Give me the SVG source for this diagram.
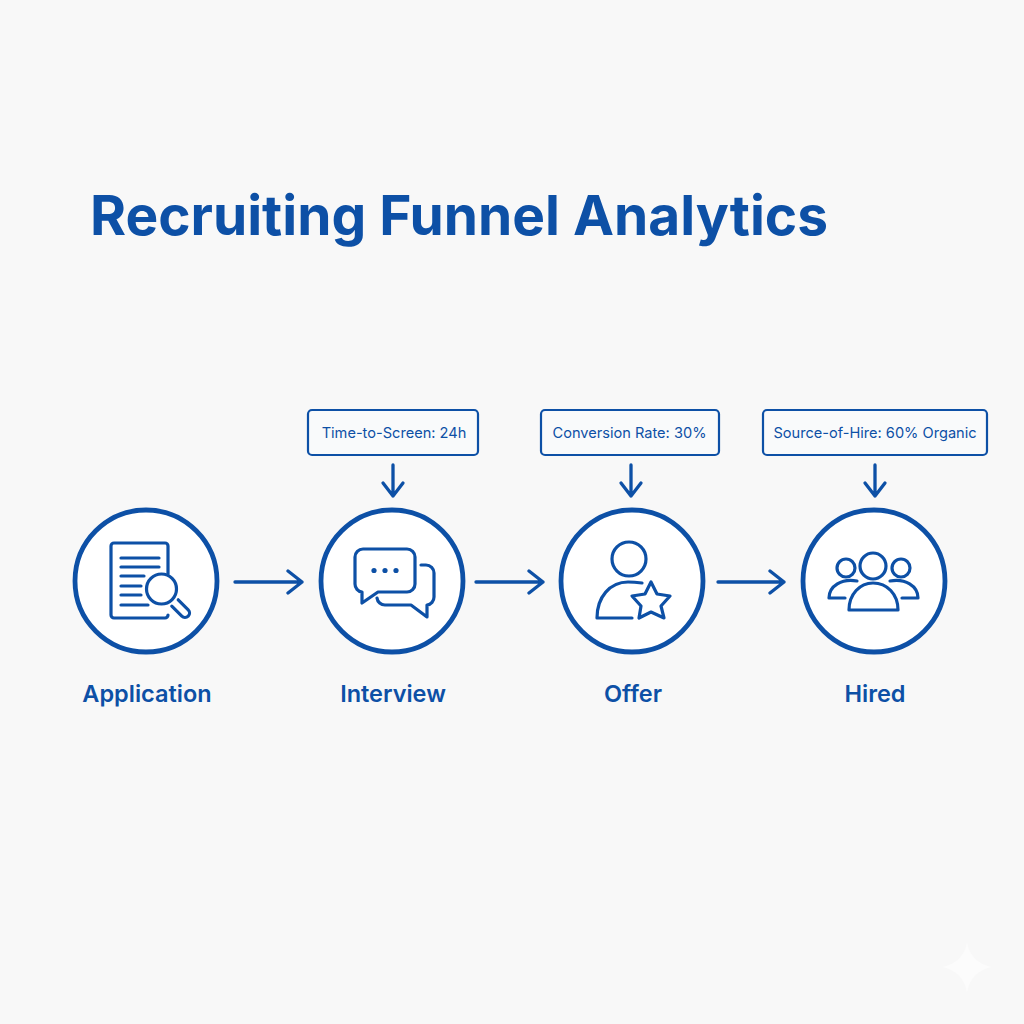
<svg xmlns="http://www.w3.org/2000/svg" width="1024" height="1024" viewBox="0 0 1024 1024">
<defs>
<style>
text{font-family:Inter,"Liberation Sans",Arial,sans-serif;fill:#0d50a6;text-anchor:middle}
.title{font-size:55px;font-weight:700;text-anchor:start}
.label{font-size:23.500px;font-weight:600}
.metric{font-size:14.600px;font-weight:400}
.ring{fill:#fff;stroke:#0d50a6;stroke-width:4.800}
.box{fill:#f9fafb;stroke:#0d50a6;stroke-width:2.200}
.ic{fill:none;stroke:#0d50a6;stroke-width:3.200;stroke-linecap:round;stroke-linejoin:round}
.thin{fill:none;stroke:#0d50a6;stroke-width:3.200;stroke-linecap:round}
.arrow{fill:none;stroke:#0d50a6;stroke-width:3.300;stroke-linecap:round;stroke-linejoin:round}
</style>
</defs>
<rect width="1024" height="1024" fill="#f8f8f8"/>
<path d="M967 943Q971 962 991 967Q971 972 967 992Q963 972 943 967Q963 962 967 943Z" fill="#fcfcfc"/>
<text id="title" class="title" x="90" y="235">Recruiting Funnel Analytics</text>
<g id="connectors">
<path class="arrow" d="M235 582H302M288 571L302 582L288 593"/>
<path class="arrow" d="M476 582H543M529 571L543 582L529 593"/>
<path class="arrow" d="M718 582H784M770 571L784 582L770 593"/>
<path class="arrow" d="M393 465V496M383 483L393 496L403 483"/>
<path class="arrow" d="M631 465V496M621 483L631 496L641 483"/>
<path class="arrow" d="M875 465V496M865 483L875 496L885 483"/>
</g>
<g id="node-application">
<circle class="ring" cx="146" cy="581" r="71"/>
<path class="ic" d="M168 574V546a3 3 0 0 0-3-3H114a3 3 0 0 0-3 3V615a3 3 0 0 0 3 3H165a3 3 0 0 0 3-3"/>
<path class="thin" d="M121 558H159M121 567H159M121 576H144M121 586H141M121 595H141M121 605H148"/>
<circle class="ic" cx="161.500" cy="589" r="15"/>
<path class="ic" d="M178.200 599.800L188.200 609.800A4.500 4.500 0 0 1 181.800 616.200L171.800 606.200"/>
<text class="label" x="147" y="702">Application</text>
</g>
<g id="node-interview">
<circle class="ring" cx="392" cy="581" r="71"/>
<path class="ic" d="M363 549H407a8 8 0 0 1 8 8V584a8 8 0 0 1-8 8H378L362 603V592A8 8 0 0 1 355 584V557a8 8 0 0 1 8-8Z"/>
<path class="ic" d="M421 565H426a8 8 0 0 1 8 8V597a8 8 0 0 1-7 8V617L411 605H385a8 8 0 0 1-8-7"/>
<circle cx="374" cy="570.500" r="2.600" fill="#0d50a6"/><circle cx="385" cy="570.500" r="2.600" fill="#0d50a6"/><circle cx="396" cy="570.500" r="2.600" fill="#0d50a6"/>
<text class="label" x="393" y="702">Interview</text>
</g>
<g id="node-offer">
<circle class="ring" cx="632" cy="581" r="71"/>
<circle class="ic" cx="629" cy="559" r="17"/>
<path class="ic" d="M642 583Q634 582 628 582C610 582 597 597 597 618H632"/>
<path class="ic" d="M651 582L657 594L670 596L661 606L664 618L651 612L639 618L641 606L632 596L645 594Z"/>
<text class="label" x="633" y="702">Offer</text>
</g>
<g id="node-hired">
<circle class="ring" cx="874" cy="581" r="71"/>
<circle class="ic" cx="873" cy="566" r="13"/>
<circle class="ic" cx="846" cy="568" r="9"/>
<circle class="ic" cx="901" cy="568" r="9"/>
<path class="ic" d="M849 610C849 594 860 583 873 583C887 583 898 594 898 610Z"/>
<path class="ic" d="M857 581C842 578 829 586 829 598H845"/>
<path class="ic" d="M890 581C905 578 918 586 918 598H902"/>
<text class="label" x="875" y="702">Hired</text>
</g>
<g id="metric-time-to-screen">
<rect class="box" x="308" y="410" width="170" height="45" rx="4"/>
<text class="metric" x="394" y="438">Time-to-Screen: 24h</text>
</g>
<g id="metric-conversion-rate">
<rect class="box" x="541" y="410" width="178" height="45" rx="4"/>
<text class="metric" x="629.500" y="438">Conversion Rate: 30%</text>
</g>
<g id="metric-source-of-hire">
<rect class="box" x="763" y="410" width="224" height="45" rx="4"/>
<text class="metric" x="875" y="438">Source-of-Hire: 60% Organic</text>
</g>
</svg>
